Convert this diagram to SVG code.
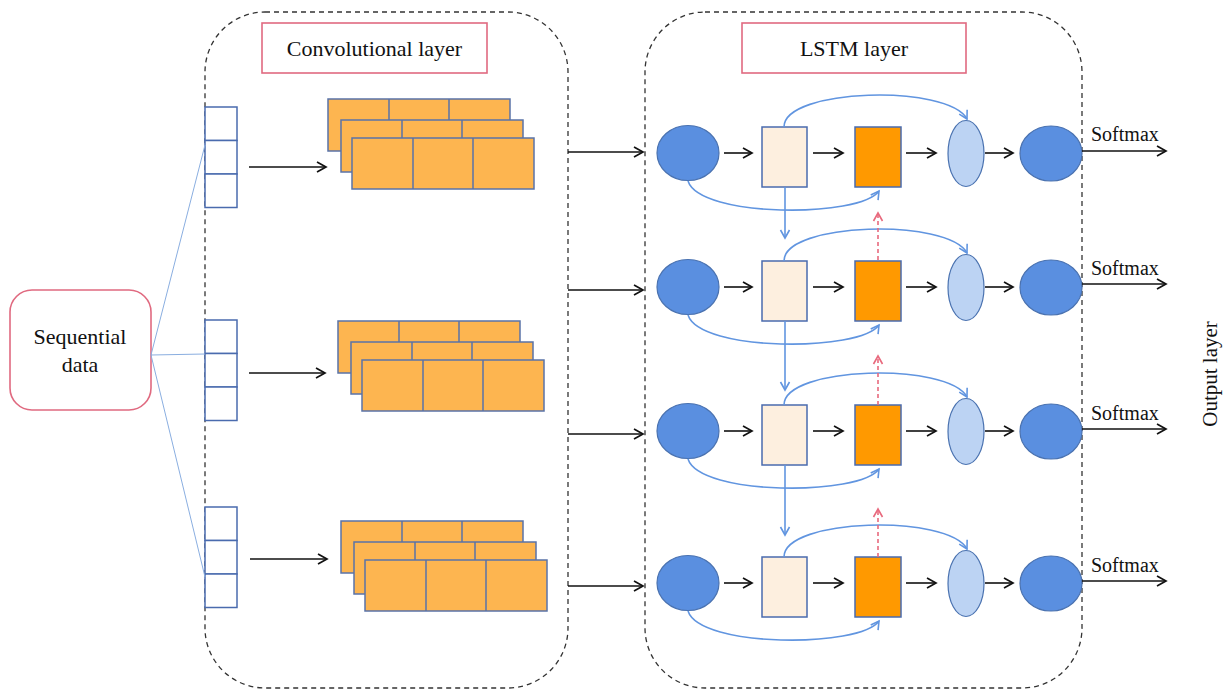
<svg xmlns="http://www.w3.org/2000/svg" xmlns:xlink="http://www.w3.org/1999/xlink" width="1226" height="692" viewBox="0 0 1226 692">
<style>
.dash{fill:none;stroke:#333;stroke-width:1.3;stroke-dasharray:5,4}
.lbl{fill:#fff;stroke:#E06A80;stroke-width:1.6}
.t{font-family:"Liberation Serif","Times New Roman",serif;fill:#111}
.cell{fill:#fff;stroke:#4A6BAE;stroke-width:1.5}
.conv{fill:#FDB550;stroke:#5A73A8;stroke-width:1.5}
.blk{fill:none;stroke:#111;stroke-width:1.6;marker-end:url(#ab)}
.bl{fill:none;stroke:#6195E0;stroke-width:1.6;marker-end:url(#abl)}
.rd{fill:none;stroke:#E8697D;stroke-width:1.6;stroke-dasharray:4,3;marker-end:url(#ar)}
.thin{fill:none;stroke:#8AAEE0;stroke-width:1}
.e1{fill:#5A8FE0;stroke:#4A72B0;stroke-width:1.2}
.e2{fill:#BCD3F3;stroke:#4A72B0;stroke-width:1.2}
.bx1{fill:#FDEFDF;stroke:#4A6BAE;stroke-width:1.5}
.bx2{fill:#FF9900;stroke:#4A6BAE;stroke-width:1.5}
</style>
<defs>
<marker id="ab" markerUnits="userSpaceOnUse" markerWidth="14" markerHeight="14" refX="11" refY="6" orient="auto"><path d="M2,1 L11,6 L2,11" fill="none" stroke="#111" stroke-width="1.7"/></marker>
<marker id="abl" markerUnits="userSpaceOnUse" markerWidth="14" markerHeight="14" refX="11" refY="6" orient="auto"><path d="M3,1.5 L11,6 L3,10.5" fill="none" stroke="#6195E0" stroke-width="1.6"/></marker>
<marker id="ar" markerUnits="userSpaceOnUse" markerWidth="14" markerHeight="14" refX="11" refY="6" orient="auto"><path d="M3,1.5 L11,6 L3,10.5" fill="none" stroke="#E8697D" stroke-width="1.6"/></marker>
<g id="stack">
<rect class="conv" x="0" y="0" width="182" height="52"/><path class="conv" d="M61,0 V52 M121,0 V52"/>
<rect class="conv" x="13" y="21" width="182" height="52"/><path class="conv" d="M74,21 V73 M134,21 V73"/>
<rect class="conv" x="24" y="39" width="182" height="51"/><path class="conv" d="M85,39 V90 M145,39 V90"/>
</g>
<g id="col">
<rect class="cell" x="0" y="0" width="32" height="33.5"/>
<rect class="cell" x="0" y="33.5" width="32" height="33.5"/>
<rect class="cell" x="0" y="67" width="32" height="33.5"/>
</g>
<g id="lrow">
<ellipse class="e1" cx="688" cy="153" rx="31" ry="27.5"/>
<rect class="bx1" x="762" y="127" width="45" height="60"/>
<rect class="bx2" x="855" y="127" width="46" height="60"/>
<ellipse class="e2" cx="966" cy="153.5" rx="18" ry="33"/>
<ellipse class="e1" cx="1051" cy="153.5" rx="31" ry="27.5"/>
<path class="blk" d="M724,153 H752"/>
<path class="blk" d="M813,153 H843"/>
<path class="blk" d="M906,153 H936"/>
<path class="blk" d="M985,153 H1013"/>
<path class="bl" d="M784,127 C784,88 948,84 967,119"/>
<path class="bl" d="M688,181 C700,218 860,218 879,191"/>
</g>
</defs>

<g id="conv-panel">
<rect class="dash" x="205" y="12" width="363" height="676" rx="60"/>
<rect class="lbl" x="262" y="23" width="225" height="50"/>
<text class="t" x="374.5" y="56" font-size="22" text-anchor="middle">Convolutional layer</text>
</g>
<g id="lstm-panel">
<rect class="dash" x="645" y="12" width="437" height="676" rx="60"/>
<rect class="lbl" x="742" y="23" width="224" height="50"/>
<text class="t" x="854" y="56" font-size="22" text-anchor="middle">LSTM layer</text>
</g>

<g id="seq">
<rect x="10" y="290" width="141" height="120" rx="22" fill="#fff" stroke="#E06A80" stroke-width="1.6"/>
<text class="t" x="80" y="344" font-size="22" text-anchor="middle">Sequential</text>
<text class="t" x="80" y="372" font-size="22" text-anchor="middle">data</text>
</g>

<g id="inputs">
<use xlink:href="#col" x="205" y="107"/>
<use xlink:href="#col" x="205" y="320"/>
<use xlink:href="#col" x="205" y="507"/>
</g>
<g id="feature-maps">
<use xlink:href="#stack" x="328" y="99"/>
<use xlink:href="#stack" x="338" y="321"/>
<use xlink:href="#stack" x="341" y="521"/>
</g>

<g id="lstm-cells">
<use xlink:href="#lrow"/>
<use xlink:href="#lrow" y="134"/>
<use xlink:href="#lrow" y="278"/>
<use xlink:href="#lrow" y="430"/>
</g>

<g id="connectors">
<path class="thin" d="M151,355 L205,145 M151,355 L205,354 M151,355 L205,577"/>
<path class="blk" d="M249,167 H326"/>
<path class="blk" d="M249,373 H325"/>
<path class="blk" d="M250,559 H327"/>
<path class="blk" d="M568,152 H643"/>
<path class="blk" d="M568,290 H643"/>
<path class="blk" d="M568,434 H643"/>
<path class="blk" d="M568,586 H643"/>
<path class="bl" d="M785,187 V238"/>
<path class="bl" d="M785,321 V390"/>
<path class="bl" d="M785,465 V535"/>
<path class="rd" d="M878,260 V213"/>
<path class="rd" d="M878,405 V356"/>
<path class="rd" d="M878,557 V509"/>
<path class="blk" d="M1082,151 H1166"/>
<path class="blk" d="M1082,284 H1166"/>
<path class="blk" d="M1082,429 H1166"/>
<path class="blk" d="M1082,581 H1166"/>
</g>

<g id="output-labels">
<text class="t" x="1091" y="141" font-size="20">Softmax</text>
<text class="t" x="1091" y="275" font-size="20">Softmax</text>
<text class="t" x="1091" y="420" font-size="20">Softmax</text>
<text class="t" x="1091" y="572" font-size="20">Softmax</text>
<text class="t" transform="translate(1217,374) rotate(-90)" font-size="21" text-anchor="middle">Output layer</text>
</g>
</svg>
